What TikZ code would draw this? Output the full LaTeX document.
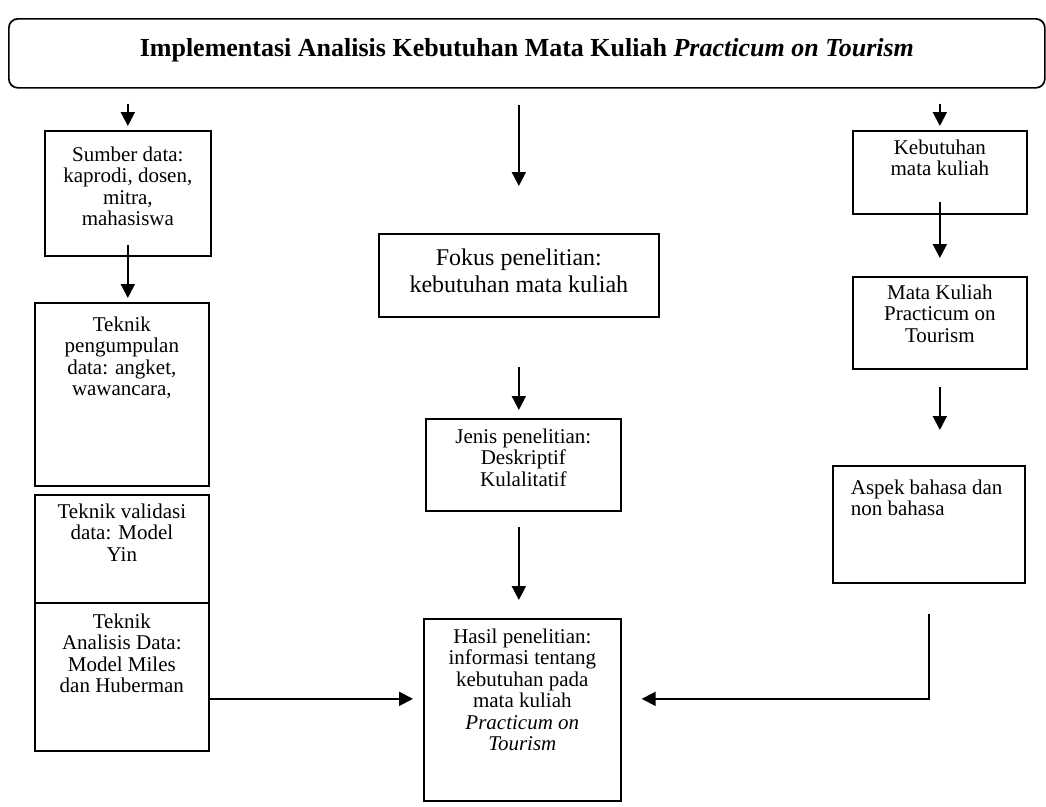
\documentclass[tikz,border=0pt]{standalone}
\usepackage{fontspec}
\setmainfont{Liberation Serif}
\usetikzlibrary{arrows.meta}
% isi kotak: lebar, tinggi, jarak atas, teks
\newcommand{\celltext}[4]{\parbox[c][#2][t]{#1}{\centering\vspace*{#3}#4\par}}
\tikzset{
	box/.style={draw=black, line width=1.7pt, inner sep=0pt, anchor=north west, font=\fontsize{21}{21.5}\selectfont},
	arr/.style={draw=black, line width=2pt, -{Triangle[width=14pt,length=14pt]}},
}
\begin{document}
\begin{tikzpicture}[x=1pt, y=-1pt]
	\useasboundingbox (0,0) rectangle (1046,806);
	% judul
	\node[box, rounded corners=9pt, font=\fontsize{26}{30}\selectfont\bfseries] (judul) at (8,18) {\celltext{1036pt}{69pt}{20pt}{Implementasi Analisis Kebutuhan Mata Kuliah \textit{Practicum on Tourism}}};
	% kolom kiri
	\node[box] (sumber) at (44,130) {\celltext{166pt}{125pt}{16pt}{Sumber data:\\ kaprodi, dosen,\\ mitra,\\ mahasiswa}};
	\node[box] (kumpul) at (34,302) {\celltext{174pt}{183pt}{14pt}{Teknik\\ pengumpulan\\ data: angket,\\ wawancara,}};
	\node[box] (validasi) at (34,494) {\celltext{174pt}{108pt}{9pt}{Teknik validasi\\ data: Model\\ Yin}};
	\node[box] (analisis) at (34,602) {\celltext{174pt}{148pt}{11pt}{Teknik\\ Analisis Data:\\ Model Miles\\ dan Huberman}};
	% kolom tengah
	\node[box, font=\fontsize{24}{27}\selectfont] (fokus) at (378,233) {\celltext{280pt}{83pt}{15pt}{Fokus penelitian:\\ kebutuhan mata kuliah}};
	\node[box] (jenis) at (425,418) {\celltext{195pt}{92pt}{10pt}{Jenis penelitian:\\ Deskriptif\\ Kulalitatif}};
	\node[box] (hasil) at (423,618) {\celltext{197pt}{182pt}{10pt}{Hasil penelitian:\\ informasi tentang\\ kebutuhan pada\\ mata kuliah\\ \textit{Practicum on}\\ \textit{Tourism}}};
	% kolom kanan
	\node[box] (butuh) at (852,130) {\celltext{174pt}{83pt}{9pt}{Kebutuhan\\ mata kuliah}};
	\node[box] (matkul) at (852,276) {\celltext{174pt}{92pt}{8pt}{Mata Kuliah\\ Practicum on\\ Tourism}};
	\node[box] (aspek) at (832,465) {\parbox[c][117pt][t]{192pt}{\raggedright\leftskip=18pt\vspace*{14pt}Aspek bahasa dan\\ non bahasa\par}};
	% panah
	\coordinate (tengah) at ([yshift=-22pt]analisis.east);
	\draw[arr, shorten <=15pt, shorten >=4pt] (judul.south -| sumber.north) -- (sumber.north);
	\draw[arr, shorten <=16pt, shorten >=47pt] (judul.south -| fokus.north) -- (fokus.north);
	\draw[arr, shorten <=15pt, shorten >=4pt] (judul.south -| butuh.north) -- (butuh.north);
	\draw[arr, shorten <=-12pt, shorten >=4pt] (sumber.south) -- (sumber.south |- kumpul.north);
	\draw[arr, shorten <=49pt, shorten >=8pt] (fokus.south) -- (fokus.south |- jenis.north);
	\draw[arr, shorten <=15pt, shorten >=18pt] (jenis.south -| fokus.south) -- (fokus.south |- hasil.north);
	\draw[arr, shorten <=-13pt, shorten >=18pt] (butuh.south) -- (butuh.south |- matkul.north);
	\draw[arr, shorten <=17pt, shorten >=35pt] (matkul.south) -- (matkul.south |- aspek.north);
	\draw[arr, shorten >=10pt] (tengah) -- (tengah -| hasil.west);
	\draw[arr, shorten <=30pt, shorten >=20pt] (aspek.south) |- (tengah -| hasil.east);
\end{tikzpicture}
\end{document}
